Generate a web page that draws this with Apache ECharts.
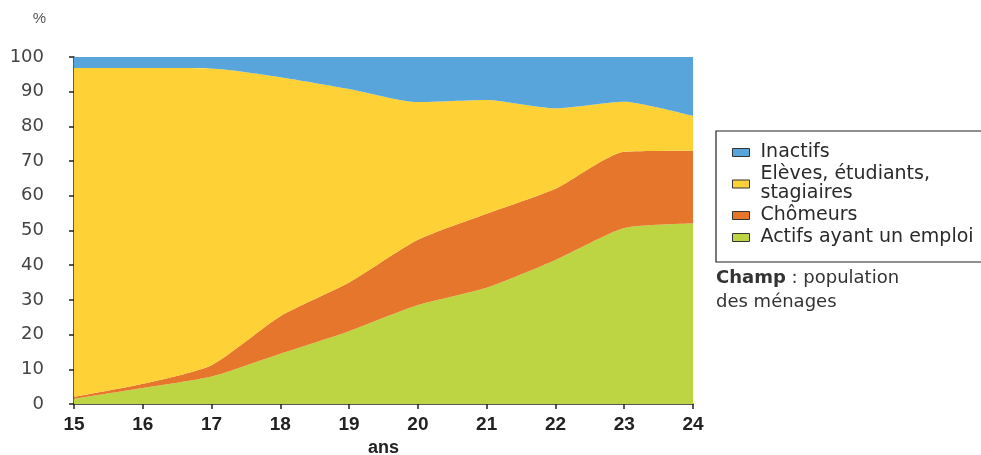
<!DOCTYPE html>
<html>
<head>
<meta charset="utf-8">
<script src="https://cdn.jsdelivr.net/npm/echarts@6/dist/echarts.min.js"></script>
<style>
  html, body { margin: 0; padding: 0; background: #ffffff; }
  #chart { width: 981px; height: 455px; }
</style>
</head>
<body>
<div id="chart"></div>
<script>
// Âge (années révolues)
const ages = ['15', '16', '17', '18', '19', '20', '21', '22', '23', '24'];

// Répartition par statut d'activité, en % (empilées de bas en haut)
const actifsEmploi = [1.5, 4.6, 7.9, 14.5, 21.0, 28.5, 33.5, 41.5, 50.7, 52.0];
const chomeurs     = [0.5, 1.2, 3.3, 10.8, 14.0, 18.8, 21.3, 20.5, 22.0, 21.0];
const eleves       = [94.8, 91.0, 85.5, 68.9, 55.8, 39.7, 32.8, 23.2, 14.4, 10.0];
const inactifs     = [3.2, 3.2, 3.3, 5.8, 9.2, 13.0, 12.4, 14.8, 12.9, 17.0];

const seriesNames = ['Actifs ayant un emploi', 'Chômeurs', 'Elèves, étudiants,\nstagiaires', 'Inactifs'];
const seriesColors = ['#bdd543', '#e6762b', '#fed136', '#57a5da'];
const seriesValues = [actifsEmploi, chomeurs, eleves, inactifs];

const chart = echarts.init(document.getElementById('chart'), null, { renderer: 'canvas' });

const fontAxis = "'Liberation Sans', Arial, Helvetica, sans-serif";
const fontText = "'DejaVu Sans', Verdana, sans-serif";

chart.setOption({
  animation: false,
  backgroundColor: '#ffffff',
  grid: { left: 74, right: 288, top: 57, bottom: 51, containLabel: false, outerBoundsMode: 'none' },
  legend: {
    orient: 'vertical',
    left: 716,
    top: 131,
    data: ['Inactifs', 'Elèves, étudiants,\nstagiaires', 'Chômeurs', 'Actifs ayant un emploi'],
    icon: 'rect',
    itemWidth: 17,
    itemHeight: 8,
    itemGap: 3,
    padding: [12, 40, 15, 16],
    borderColor: '#222',
    borderWidth: 1.2,
    textStyle: { fontFamily: fontText, fontSize: 19, color: '#2a2a2a', lineHeight: 19, padding: [0, 0, 0, 6] },
    itemStyle: { borderColor: '#333', borderWidth: 1 }
  },
  xAxis: {
    type: 'category',
    data: ages,
    boundaryGap: false,
    name: 'ans',
    nameLocation: 'middle',
    nameGap: 32,
    nameTextStyle: { fontFamily: fontAxis, fontSize: 18, fontWeight: 'bold', color: '#222' },
    axisLine: { lineStyle: { color: '#222', width: 1.5 } },
    axisTick: { show: true, inside: false, length: 5, alignWithLabel: true, lineStyle: { color: '#222', width: 1.5 } },
    axisLabel: { margin: 11, fontFamily: fontAxis, fontSize: 19, fontWeight: 'bold', color: '#222' },
    splitLine: { show: false }
  },
  yAxis: {
    type: 'value',
    min: 0,
    max: 100,
    interval: 10,
    name: '%',
    nameLocation: 'end',
    nameGap: 31,
    nameTextStyle: { fontFamily: fontAxis, fontSize: 15, color: '#555', align: 'right', padding: [0, 28, 0, 0] },
    axisLine: { show: true, lineStyle: { color: '#222', width: 1.5 } },
    axisTick: { show: true, inside: false, length: 5, lineStyle: { color: '#222', width: 1.5 } },
    axisLabel: { margin: 30, fontFamily: fontText, fontSize: 18, color: '#444' },
    splitLine: { show: false }
  },
  series: seriesValues.map((vals, i) => ({
    name: seriesNames[i],
    type: 'line',
    stack: 'total',
    data: vals,
    smooth: 0.2,
    symbol: 'none',
    lineStyle: { width: 0 },
    areaStyle: { color: seriesColors[i], opacity: 1 },
    itemStyle: { color: seriesColors[i], borderColor: '#333', borderWidth: 1 },
    z: 2
  })),
  graphic: [
    {
      type: 'text',
      left: 716,
      top: 266,
      style: {
        text: '{b|Champ} : population\ndes ménages',
        fontFamily: fontText,
        fontSize: 18,
        lineHeight: 24,
        fill: '#333',
        rich: {
          b: { fontFamily: fontText, fontSize: 18, fontWeight: 'bold', fill: '#333' }
        }
      }
    }
  ]
});
</script>
</body>
</html>
